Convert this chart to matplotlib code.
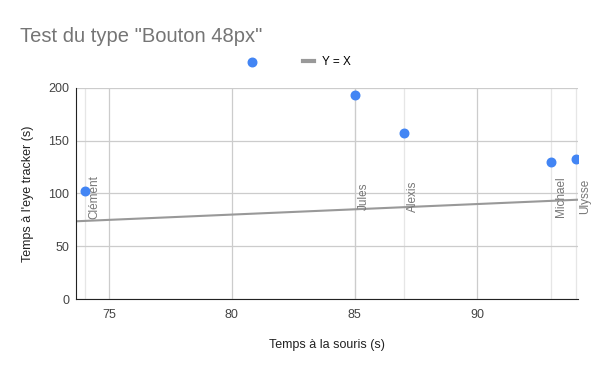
import numpy as np
import matplotlib
matplotlib.use('Agg')
import matplotlib.pyplot as plt

plt.rcParams['font.family'] = ['Liberation Sans', 'DejaVu Sans']

# données
noms = ['Clément', 'Jules', 'Alexis', 'Michael', 'Ulysse']
souris = [74, 85, 87, 93, 94]
eye_tracker = [102, 193, 157, 130, 133]
ligne_x = [73.65, 94.1]
xticks = [75, 80, 85, 90]
yticks = [0, 50, 100, 150, 200]

fig = plt.figure(figsize=(6, 3.71), dpi=100)
ax = fig.add_axes([0.1267, 0.194, 0.8366, 0.569])

ax.set_xlim(ligne_x[0], ligne_x[1])
ax.set_ylim(0, 200)
ax.set_xticks(xticks)
ax.set_yticks(yticks)
ax.grid(True, color='#cccccc', linewidth=0.9)
ax.set_axisbelow(True)

# lignes verticales claires aux points
for x in souris:
    ax.axvline(x, color='#e6e6e6', linewidth=0.9, zorder=0)

ax.plot(ligne_x, ligne_x, color='#999999', linewidth=1.5, label='Y = X', zorder=2)
ax.scatter(souris, eye_tracker, s=38, color='#4285f4', zorder=3, label=' ')

# étiquettes
for nom, x in zip(noms, souris):
    ax.annotate(nom, (x, 97), xytext=(7, 0), textcoords='offset points',
                rotation=90, ha='center', va='center', fontsize=8.5,
                color='#777777', zorder=4)

for s in ['top', 'right']:
    ax.spines[s].set_visible(False)
ax.spines['left'].set_color('#222222')
ax.spines['bottom'].set_color('#222222')
ax.tick_params(length=0, labelsize=9, colors='#444444', pad=7)
ax.tick_params(axis='y', pad=5)

ax.set_xlabel('Temps à la souris (s)', fontsize=9, color='#222222', labelpad=13)
ax.set_ylabel("Temps à l'eye tracker (s)", fontsize=9, color='#222222', labelpad=10)

fig.text(20 / 600, 1 - 37 / 371, 'Test du type "Bouton 48px"', fontsize=14.5,
         color='#757575', va='center', ha='left')

leg = fig.legend(handles=ax.get_legend_handles_labels()[0][::-1],
                 labels=['', 'Y = X'], loc='center', ncol=2,
                 bbox_to_anchor=(0.497, 1 - 62 / 371), frameon=False,
                 fontsize=8.5, handlelength=1.0, columnspacing=3.2,
                 handletextpad=0.6)
for l in leg.get_lines():
    l.set_linewidth(3)

plt.savefig('out.png', dpi=100)
